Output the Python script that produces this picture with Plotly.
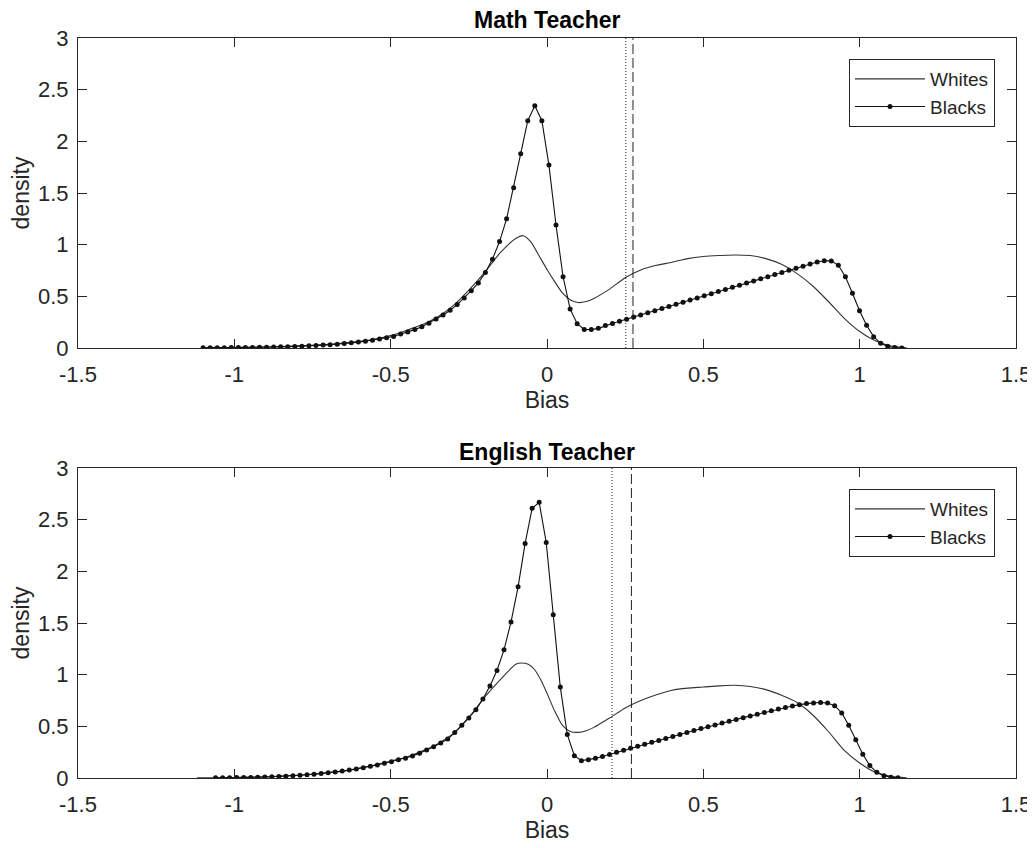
import numpy as np
import plotly.graph_objects as go

# ---------------- data ----------------
# Math teacher - Blacks (kernel density, 100 grid points)
math_black_x = np.linspace(-1.10, 1.135, 100)
math_black_y = [
    0.002, 0.002, 0.003, 0.003, 0.004, 0.004, 0.005, 0.006, 0.007, 0.008,
    0.009, 0.011, 0.013, 0.015, 0.018, 0.021, 0.024, 0.028, 0.032, 0.037,
    0.043, 0.050, 0.057, 0.065, 0.075, 0.086, 0.098, 0.112, 0.135, 0.155,
    0.178, 0.205, 0.24, 0.28, 0.32, 0.365, 0.42, 0.484, 0.555, 0.63,
    0.73, 0.86, 1.03, 1.25, 1.55, 1.88, 2.20, 2.345, 2.20, 1.77,
    1.19, 0.69, 0.377, 0.235, 0.18, 0.178, 0.19, 0.217, 0.238, 0.258,
    0.279, 0.299, 0.320, 0.341, 0.361, 0.382, 0.402, 0.423, 0.443, 0.464,
    0.485, 0.505, 0.526, 0.546, 0.567, 0.587, 0.608, 0.628, 0.649, 0.670,
    0.690, 0.711, 0.731, 0.752, 0.772, 0.792, 0.812, 0.832, 0.845, 0.843,
    0.80, 0.69, 0.53, 0.36, 0.22, 0.11, 0.045, 0.016, 0.005, 0.001,
]
# Math teacher - Whites
math_white_x = [-1.10, -1.05, -1.00, -0.95, -0.90, -0.85, -0.80, -0.75, -0.70, -0.65,
                -0.60, -0.55, -0.50, -0.45, -0.40, -0.35, -0.30, -0.25, -0.20, -0.15,
                -0.10, -0.075, -0.05, -0.025, 0.00, 0.025, 0.05, 0.075, 0.10, 0.125,
                0.15, 0.20, 0.25, 0.30, 0.35, 0.40, 0.45, 0.50, 0.55, 0.60,
                0.65, 0.70, 0.75, 0.80, 0.85, 0.90, 0.95, 1.00, 1.05, 1.10, 1.15]
math_white_y = [0.002, 0.003, 0.005, 0.007, 0.010, 0.014, 0.019, 0.026, 0.035, 0.047,
                0.064, 0.087, 0.12, 0.17, 0.225, 0.30, 0.41, 0.56, 0.73, 0.92,
                1.06, 1.087, 1.02, 0.89, 0.76, 0.64, 0.53, 0.465, 0.44, 0.45,
                0.48, 0.57, 0.68, 0.755, 0.80, 0.83, 0.865, 0.885, 0.895, 0.90,
                0.895, 0.865, 0.81, 0.72, 0.60, 0.45, 0.29, 0.16, 0.07, 0.02, 0.003]

# English teacher - Blacks (98 grid points)
eng_black_x = np.linspace(-1.06, 1.1225, 98)
eng_black_y = [
    0.002, 0.002, 0.003, 0.004, 0.005, 0.006, 0.008, 0.010, 0.012, 0.015,
    0.018, 0.022, 0.026, 0.031, 0.037, 0.043, 0.050, 0.058, 0.067, 0.077,
    0.088, 0.100, 0.113, 0.127, 0.142, 0.158, 0.177, 0.19, 0.213, 0.24,
    0.27, 0.303, 0.338, 0.377, 0.44, 0.51, 0.58, 0.66, 0.765, 0.89,
    1.04, 1.24, 1.51, 1.85, 2.27, 2.61, 2.668, 2.28, 1.58, 0.88,
    0.42, 0.216, 0.168, 0.177, 0.19, 0.208, 0.228, 0.248, 0.268, 0.288,
    0.307, 0.326, 0.345, 0.364, 0.383, 0.402, 0.421, 0.440, 0.459, 0.478,
    0.496, 0.514, 0.532, 0.550, 0.567, 0.584, 0.601, 0.618, 0.635, 0.652,
    0.668, 0.683, 0.697, 0.710, 0.720, 0.727, 0.730, 0.725, 0.70, 0.63,
    0.51, 0.37, 0.23, 0.12, 0.055, 0.022, 0.007, 0.002,
]
# English teacher - Whites
eng_white_x = [-1.12, -1.05, -1.00, -0.95, -0.90, -0.85, -0.80, -0.75, -0.70, -0.65,
               -0.60, -0.55, -0.50, -0.45, -0.40, -0.35, -0.30, -0.25, -0.20, -0.15,
               -0.10, -0.08, -0.06, -0.04, -0.02, 0.00, 0.025, 0.05, 0.075, 0.10,
               0.125, 0.15, 0.20, 0.25, 0.30, 0.35, 0.40, 0.45, 0.50, 0.55,
               0.60, 0.65, 0.70, 0.75, 0.80, 0.85, 0.90, 0.95, 1.00, 1.05, 1.10, 1.15]
eng_white_y = [0.001, 0.003, 0.005, 0.008, 0.012, 0.018, 0.026, 0.036, 0.050, 0.068,
               0.093, 0.125, 0.165, 0.20, 0.26, 0.33, 0.43, 0.585, 0.78, 0.95,
               1.10, 1.113, 1.10, 1.05, 0.95, 0.82, 0.645, 0.506, 0.45, 0.442,
               0.458, 0.49, 0.58, 0.677, 0.75, 0.806, 0.85, 0.87, 0.88, 0.892,
               0.897, 0.885, 0.855, 0.80, 0.73, 0.61, 0.45, 0.27, 0.145, 0.055, 0.016, 0.002]

# mean bias markers (dotted = Whites mean, dashed = Blacks mean)
math_means = [0.252, 0.275]
eng_means = [0.208, 0.270]

subplot_titles = ["Math Teacher", "English Teacher"]
x_ticks = [-1.5, -1, -0.5, 0, 0.5, 1, 1.5]
y_ticks = [0, 0.5, 1, 1.5, 2, 2.5, 3]

# ---------------- figure ----------------
OFF = 8  # default page body margin
W, H = 1035 - OFF, 848 - OFF
FONT = "Liberation Sans, Arial, sans-serif"
AX = "#262626"

def px_x(p):
    return (p - OFF) / W

def px_y(p):
    return 1 - (p - OFF) / H

fig = go.Figure()

panels = [
    (math_white_x, math_white_y, math_black_x, math_black_y, math_means, "x", "y", "legend"),
    (eng_white_x, eng_white_y, eng_black_x, eng_black_y, eng_means, "x2", "y2", "legend2"),
]
for wx, wy, bx, by, means, xa, ya, lg in panels:
    fig.add_trace(go.Scatter(x=wx, y=wy, mode="lines", name="Whites",
                             line=dict(color="#333333", width=1.1, shape="spline", smoothing=0.6),
                             xaxis=xa, yaxis=ya, legend=lg))
    fig.add_trace(go.Scatter(x=bx, y=by, mode="lines+markers", name="Blacks",
                             line=dict(color="#111111", width=1.1),
                             marker=dict(color="#111111", size=5),
                             xaxis=xa, yaxis=ya, legend=lg))
    fig.add_trace(go.Scatter(x=[means[0], means[0]], y=[0, 3], mode="lines",
                             line=dict(color="#222222", width=1, dash="1px,2px"),
                             showlegend=False, xaxis=xa, yaxis=ya))
    fig.add_trace(go.Scatter(x=[means[1], means[1]], y=[0, 3], mode="lines",
                             line=dict(color="#222222", width=1, dash="10px,4px"),
                             showlegend=False, xaxis=xa, yaxis=ya))

xdom = [px_x(78), px_x(1016)]
axis_common = dict(showline=True, linecolor=AX, linewidth=1, mirror="ticks",
                   ticks="inside", ticklen=9, tickcolor=AX, tickwidth=1,
                   showgrid=False, zeroline=False,
                   tickfont=dict(family=FONT, size=22, color=AX))

xcommon = dict(axis_common, range=[-1.5, 1.5], tickvals=x_ticks,
               ticktext=[f"{v:g}" for v in x_ticks], ticklabelstandoff=7,
               title=dict(text="Bias", font=dict(family=FONT, size=23, color=AX), standoff=4))
ycommon = dict(axis_common, range=[0, 3], tickvals=y_ticks,
               ticktext=[f"{v:g}" for v in y_ticks], ticklabelstandoff=4,
               title=dict(text="density", font=dict(family=FONT, size=23, color=AX), standoff=6))

legend_common = dict(xanchor="right", yanchor="top",
                     bordercolor=AX, borderwidth=1, bgcolor="white",
                     font=dict(family=FONT, size=19, color=AX), itemwidth=70,
                     tracegroupgap=0)

fig.update_layout(
    width=W, height=H, template="none",
    paper_bgcolor="white", plot_bgcolor="white",
    margin=dict(l=0, r=0, t=0, b=0),
    xaxis=dict(xcommon, domain=xdom, anchor="y"),
    yaxis=dict(ycommon, domain=[px_y(348), px_y(38)], anchor="x"),
    xaxis2=dict(xcommon, domain=xdom, anchor="y2"),
    yaxis2=dict(ycommon, domain=[px_y(778), px_y(468)], anchor="x2"),
    legend=dict(legend_common, x=px_x(995), y=px_y(59)),
    legend2=dict(legend_common, x=px_x(995), y=px_y(489)),
    showlegend=True,
)

for title, ypix in zip(subplot_titles, [20, 452]):
    fig.add_annotation(text=f"<b>{title}</b>", x=(xdom[0] + xdom[1]) / 2, y=px_y(ypix),
                       xref="paper", yref="paper", xanchor="center", yanchor="middle",
                       showarrow=False, font=dict(family=FONT, size=23, color="#000000"))

fig.write_html("out.html")
